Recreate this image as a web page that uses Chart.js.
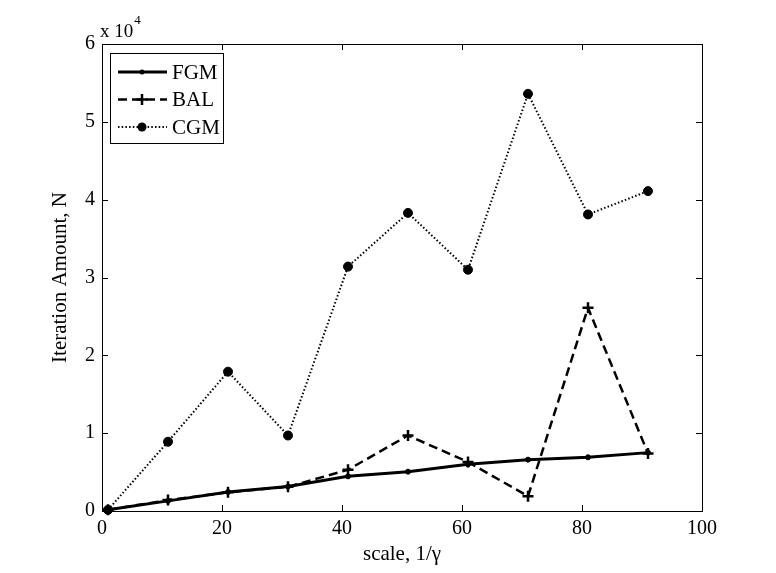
<!DOCTYPE html>
<html>
<head>
<meta charset="utf-8">
<script src="https://cdn.jsdelivr.net/npm/chart.js@4.4.1/dist/chart.umd.min.js"></script>
<style>
  body { margin: 0; background: #fff; }
  canvas { display: block; }
</style>
</head>
<body>
<canvas id="myChart" width="776" height="573"></canvas>
<script>
const scaleValues = [1, 11, 21, 31, 41, 51, 61, 71, 81, 91];
const fgmValues = [150, 1300, 2450, 3150, 4450, 5050, 6000, 6600, 6900, 7500];
const balValues = [150, 1400, 2400, 3100, 5300, 9700, 6300, 1900, 26100, 7400];
const cgmValues = [150, 8900, 17900, 9700, 31400, 38300, 31000, 53600, 38100, 41100];
const seriesNames = ["FGM", "BAL", "CGM"];
const xTicks = [0, 20, 40, 60, 80, 100];
const yTicks = [0, 10000, 20000, 30000, 40000, 50000, 60000];
const yExponent = "4";

const serif = "'Liberation Serif', 'Times New Roman', serif";

function toPoints(values) {
  return values.map((v, i) => ({ x: scaleValues[i], y: v }));
}

// frame + inward ticks like the matlab figure
const framePlugin = {
  id: "frame",
  afterDraw(chart) {
    const ctx = chart.ctx;
    const a = chart.chartArea;
    const xs = chart.scales.x;
    const ys = chart.scales.y;
    ctx.save();
    ctx.strokeStyle = "#000";
    ctx.lineWidth = 1;
    ctx.strokeRect(a.left + 0.5, a.top + 0.5, a.right - a.left, a.bottom - a.top);
    ctx.beginPath();
    xTicks.forEach((t) => {
      const px = Math.round(xs.getPixelForValue(t)) + 0.5;
      ctx.moveTo(px, a.bottom);
      ctx.lineTo(px, a.bottom - 6);
      ctx.moveTo(px, a.top);
      ctx.lineTo(px, a.top + 6);
    });
    yTicks.forEach((t) => {
      const py = Math.round(ys.getPixelForValue(t)) + 0.5;
      ctx.moveTo(a.left, py);
      ctx.lineTo(a.left + 6, py);
      ctx.moveTo(a.right, py);
      ctx.lineTo(a.right - 6, py);
    });
    ctx.stroke();

    ctx.fillStyle = "#000";
    ctx.textBaseline = "alphabetic";
    ctx.textAlign = "left";
    ctx.font = "19px " + serif;
    ctx.fillText("x 10", a.left - 2, a.top - 7);
    const w = ctx.measureText("x 10").width;
    ctx.font = "13px " + serif;
    ctx.fillText(yExponent, a.left - 1 + w, a.top - 20);
    ctx.restore();
  }
};

function drawMarker(ctx, style, r, x, y) {
  ctx.beginPath();
  if (style === "cross") {
    ctx.moveTo(x - r, y);
    ctx.lineTo(x + r, y);
    ctx.moveTo(x, y - r);
    ctx.lineTo(x, y + r);
    ctx.stroke();
  } else {
    ctx.arc(x, y, r, 0, Math.PI * 2);
    ctx.fill();
  }
}

const legendPlugin = {
  id: "boxLegend",
  afterDraw(chart) {
    const ctx = chart.ctx;
    const a = chart.chartArea;
    const left = a.left + 8;
    const top = a.top + 9;
    const width = 113;
    const height = 90;
    ctx.save();
    ctx.fillStyle = "#fff";
    ctx.fillRect(left, top, width, height);
    ctx.strokeStyle = "#000";
    ctx.lineWidth = 1;
    ctx.strokeRect(left + 0.5, top + 0.5, width, height);

    chart.data.datasets.forEach((ds, i) => {
      const y = top + 19 + i * 27.5;
      ctx.strokeStyle = "#000";
      ctx.fillStyle = "#000";
      ctx.lineWidth = ds.borderWidth;
      ctx.setLineDash(ds.borderDash || []);
      ctx.beginPath();
      ctx.moveTo(left + 8, y);
      ctx.lineTo(left + 57, y);
      ctx.stroke();
      ctx.setLineDash([]);
      ctx.lineWidth = ds.pointBorderWidth;
      drawMarker(ctx, ds.pointStyle, ds.pointRadius, left + 32, y);
      ctx.font = "21px " + serif;
      ctx.textBaseline = "middle";
      ctx.fillText(ds.label, left + 62, y + 1);
    });
    ctx.restore();
  }
};

const ctx = document.getElementById("myChart").getContext("2d");

const chart = new Chart(ctx, {
  type: "line",
  data: {
    datasets: [
      {
        label: seriesNames[0],
        data: toPoints(fgmValues),
        borderColor: "#000",
        backgroundColor: "#000",
        borderWidth: 3,
        pointStyle: "circle",
        pointRadius: 2.5,
        pointBorderWidth: 1,
        clip: false,
      },
      {
        label: seriesNames[1],
        data: toPoints(balValues),
        borderColor: "#000",
        backgroundColor: "#000",
        borderWidth: 2.5,
        borderDash: [9, 5],
        pointStyle: "cross",
        pointRadius: 5.5,
        pointBorderWidth: 2.5,
        clip: false,
      },
      {
        label: seriesNames[2],
        data: toPoints(cgmValues),
        borderColor: "#000",
        backgroundColor: "#000",
        borderWidth: 2,
        borderDash: [1.5, 2.2],
        pointStyle: "circle",
        pointRadius: 4.5,
        pointBorderWidth: 1,
        clip: false,
      },
    ],
  },
  options: {
    responsive: false,
    animation: false,
    devicePixelRatio: 1,
    layout: {
      padding: { top: 44, right: 74, bottom: 0, left: 0 }
    },
    plugins: {
      legend: { display: false },
      tooltip: { enabled: false },
    },
    elements: {
      line: { tension: 0 },
    },
    scales: {
      x: {
        type: "linear",
        min: 0,
        max: 100,
        afterBuildTicks: (scale) => {
          scale.ticks = xTicks.map((v) => ({ value: v }));
        },
        afterFit: (scale) => {
          scale.height = 62;
        },
        grid: { display: false, drawTicks: false },
        border: { display: false },
        ticks: {
          color: "#000",
          padding: 6,
          font: { family: serif, size: 20 },
        },
        title: {
          display: true,
          text: "scale, 1/\u03b3",
          color: "#000",
          font: { family: serif, size: 21 },
          padding: { top: 0, bottom: 6 },
        },
      },
      y: {
        type: "linear",
        min: 0,
        max: 60000,
        afterBuildTicks: (scale) => {
          scale.ticks = yTicks.map((v) => ({ value: v }));
        },
        afterFit: (scale) => {
          scale.width = 102;
        },
        grid: { display: false, drawTicks: false },
        border: { display: false },
        ticks: {
          color: "#000",
          padding: 7,
          font: { family: serif, size: 20 },
          callback: (v) => v / 10000,
        },
        title: {
          display: true,
          text: "Iteration Amount, N",
          color: "#000",
          font: { family: serif, size: 21 },
          padding: { top: 48, bottom: 0 },
        },
      },
    },
  },
  plugins: [framePlugin, legendPlugin],
});
</script>
</body>
</html>
